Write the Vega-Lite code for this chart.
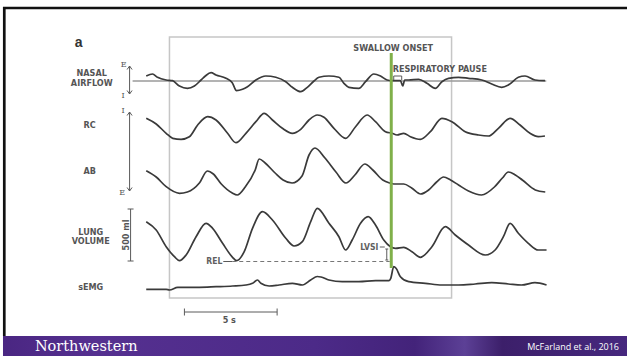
{
  "$schema": "https://vega.github.io/schema/vega-lite/v6.json",
  "width": 629,
  "height": 356,
  "autosize": {"type": "fit", "contains": "padding"},
  "padding": 0,
  "background": "white",
  "config": {"view": {"stroke": null}},
  "datasets": {
    "band": [{"x": 3, "xe": 629, "y": 336, "ye": 356}],
    "box": [{"x": 170, "xe": 453, "y": 37, "ye": 298}],
    "frame": [
      {"x": 3, "y": 8, "xe": 629, "ye": 8, "part": "top"},
      {"x": 4.3, "y": 7, "xe": 4.3, "ye": 336, "part": "left"}
    ],
    "baseline": [{"x": 133, "y": 81, "xe": 548, "ye": 81}],
    "swallow": [{"x": 392.5, "y": 53, "xe": 392.5, "ye": 268}],
    "rel": [{"x": 233, "y": 261.5, "xe": 391, "ye": 261.5}],
    "segs": [
      {"x": 130, "y": 66, "xe": 130, "ye": 94},
      {"x": 127.5, "y": 69.5, "xe": 130, "ye": 66},
      {"x": 130, "y": 66, "xe": 132.5, "ye": 69.5},
      {"x": 127.5, "y": 90.5, "xe": 130, "ye": 94},
      {"x": 130, "y": 94, "xe": 132.5, "ye": 90.5},
      {"x": 130, "y": 112, "xe": 130, "ye": 191},
      {"x": 127.5, "y": 115.5, "xe": 130, "ye": 112},
      {"x": 130, "y": 112, "xe": 132.5, "ye": 115.5},
      {"x": 127.5, "y": 187.5, "xe": 130, "ye": 191},
      {"x": 130, "y": 191, "xe": 132.5, "ye": 187.5},
      {"x": 131, "y": 209, "xe": 131, "ye": 261},
      {"x": 128, "y": 209, "xe": 134, "ye": 209},
      {"x": 128, "y": 261, "xe": 134, "ye": 261},
      {"x": 185, "y": 312, "xe": 278, "ye": 312},
      {"x": 185, "y": 308.5, "xe": 185, "ye": 315.5},
      {"x": 278, "y": 308.5, "xe": 278, "ye": 315.5},
      {"x": 395, "y": 80, "xe": 395, "ye": 76},
      {"x": 395, "y": 76, "xe": 403, "ye": 76},
      {"x": 403, "y": 76, "xe": 403, "ye": 80},
      {"x": 381, "y": 247, "xe": 386, "ye": 247},
      {"x": 388, "y": 249, "xe": 388, "ye": 260},
      {"x": 386.5, "y": 249, "xe": 389.5, "ye": 249},
      {"x": 386.5, "y": 260, "xe": 389.5, "ye": 260},
      {"x": 224, "y": 261.5, "xe": 233, "ye": 261.5}
    ],
    "traces": [
      {"ch": "nasal", "x": 146.7, "y": 76}, {"ch": "nasal", "x": 153, "y": 74}, {"ch": "nasal", "x": 158, "y": 77.3}, {"ch": "nasal", "x": 166.7, "y": 80}, {"ch": "nasal", "x": 173, "y": 80.7}, {"ch": "nasal", "x": 180, "y": 86}, {"ch": "nasal", "x": 188, "y": 88.3}, {"ch": "nasal", "x": 195, "y": 86}, {"ch": "nasal", "x": 201.7, "y": 80}, {"ch": "nasal", "x": 206, "y": 76}, {"ch": "nasal", "x": 211.7, "y": 72.7}, {"ch": "nasal", "x": 216.7, "y": 75}, {"ch": "nasal", "x": 226.7, "y": 78.3}, {"ch": "nasal", "x": 233, "y": 82.7}, {"ch": "nasal", "x": 237.3, "y": 90.7}, {"ch": "nasal", "x": 243.3, "y": 89.3}, {"ch": "nasal", "x": 248.3, "y": 86.7}, {"ch": "nasal", "x": 256.7, "y": 80}, {"ch": "nasal", "x": 266.7, "y": 76}, {"ch": "nasal", "x": 276.7, "y": 77.3}, {"ch": "nasal", "x": 286.7, "y": 81.7}, {"ch": "nasal", "x": 293.3, "y": 87.3}, {"ch": "nasal", "x": 301.7, "y": 91.7}, {"ch": "nasal", "x": 308.3, "y": 87.3}, {"ch": "nasal", "x": 315, "y": 81}, {"ch": "nasal", "x": 320, "y": 77.3}, {"ch": "nasal", "x": 330, "y": 76}, {"ch": "nasal", "x": 340, "y": 77.3}, {"ch": "nasal", "x": 345, "y": 83.3}, {"ch": "nasal", "x": 350, "y": 87.3}, {"ch": "nasal", "x": 360, "y": 88.3}, {"ch": "nasal", "x": 366.7, "y": 81.7}, {"ch": "nasal", "x": 375, "y": 74}, {"ch": "nasal", "x": 381.7, "y": 76}, {"ch": "nasal", "x": 388.3, "y": 80}, {"ch": "nasal", "x": 393.3, "y": 80.7}, {"ch": "nasal", "x": 401.7, "y": 80.7}, {"ch": "nasal", "x": 404, "y": 86}, {"ch": "nasal", "x": 406, "y": 80}, {"ch": "nasal", "x": 410, "y": 80}, {"ch": "nasal", "x": 420, "y": 79.3}, {"ch": "nasal", "x": 428.3, "y": 83.3}, {"ch": "nasal", "x": 436.7, "y": 88.3}, {"ch": "nasal", "x": 443.3, "y": 81.7}, {"ch": "nasal", "x": 450, "y": 78.3}, {"ch": "nasal", "x": 460, "y": 77.3}, {"ch": "nasal", "x": 470, "y": 78.3}, {"ch": "nasal", "x": 483.3, "y": 80}, {"ch": "nasal", "x": 493.3, "y": 84}, {"ch": "nasal", "x": 503.3, "y": 87.3}, {"ch": "nasal", "x": 510, "y": 85}, {"ch": "nasal", "x": 520, "y": 77.3}, {"ch": "nasal", "x": 526.7, "y": 76}, {"ch": "nasal", "x": 536.7, "y": 80}, {"ch": "nasal", "x": 546.7, "y": 80.7},
      {"ch": "rc", "x": 146.7, "y": 118.3}, {"ch": "rc", "x": 156.7, "y": 124}, {"ch": "rc", "x": 166.7, "y": 133.3}, {"ch": "rc", "x": 173.3, "y": 138.3}, {"ch": "rc", "x": 181.7, "y": 139.3}, {"ch": "rc", "x": 190, "y": 136.7}, {"ch": "rc", "x": 198.3, "y": 125}, {"ch": "rc", "x": 208.3, "y": 116.7}, {"ch": "rc", "x": 216.7, "y": 120}, {"ch": "rc", "x": 228.3, "y": 133.3}, {"ch": "rc", "x": 236.7, "y": 142.7}, {"ch": "rc", "x": 246.7, "y": 133.3}, {"ch": "rc", "x": 256.7, "y": 121.7}, {"ch": "rc", "x": 265, "y": 113.3}, {"ch": "rc", "x": 273.3, "y": 120}, {"ch": "rc", "x": 283.3, "y": 128.3}, {"ch": "rc", "x": 293.3, "y": 133.3}, {"ch": "rc", "x": 301.7, "y": 129.3}, {"ch": "rc", "x": 310, "y": 120}, {"ch": "rc", "x": 318.3, "y": 115}, {"ch": "rc", "x": 325, "y": 117.3}, {"ch": "rc", "x": 335, "y": 128.3}, {"ch": "rc", "x": 346.7, "y": 138.3}, {"ch": "rc", "x": 356.7, "y": 126.7}, {"ch": "rc", "x": 368.3, "y": 115}, {"ch": "rc", "x": 376.7, "y": 121.7}, {"ch": "rc", "x": 386.7, "y": 131.7}, {"ch": "rc", "x": 393.3, "y": 133.3}, {"ch": "rc", "x": 398.3, "y": 135}, {"ch": "rc", "x": 405, "y": 133.3}, {"ch": "rc", "x": 411.7, "y": 136.7}, {"ch": "rc", "x": 421.7, "y": 139.3}, {"ch": "rc", "x": 431.7, "y": 131.7}, {"ch": "rc", "x": 443.3, "y": 118.3}, {"ch": "rc", "x": 453.3, "y": 121.7}, {"ch": "rc", "x": 466.7, "y": 131.7}, {"ch": "rc", "x": 480, "y": 135}, {"ch": "rc", "x": 490, "y": 136}, {"ch": "rc", "x": 500, "y": 128.3}, {"ch": "rc", "x": 511.7, "y": 118.3}, {"ch": "rc", "x": 521.7, "y": 125}, {"ch": "rc", "x": 531.7, "y": 133.3}, {"ch": "rc", "x": 540, "y": 136.7}, {"ch": "rc", "x": 546.7, "y": 136},
      {"ch": "ab", "x": 146.7, "y": 170.7}, {"ch": "ab", "x": 156.7, "y": 177}, {"ch": "ab", "x": 166.7, "y": 186.7}, {"ch": "ab", "x": 180, "y": 193.3}, {"ch": "ab", "x": 188, "y": 192}, {"ch": "ab", "x": 200, "y": 183}, {"ch": "ab", "x": 208, "y": 171}, {"ch": "ab", "x": 214, "y": 174}, {"ch": "ab", "x": 222, "y": 184}, {"ch": "ab", "x": 233, "y": 193}, {"ch": "ab", "x": 238, "y": 195}, {"ch": "ab", "x": 246, "y": 187}, {"ch": "ab", "x": 256, "y": 170}, {"ch": "ab", "x": 260, "y": 159}, {"ch": "ab", "x": 266, "y": 163}, {"ch": "ab", "x": 276, "y": 173}, {"ch": "ab", "x": 284, "y": 180}, {"ch": "ab", "x": 293, "y": 183}, {"ch": "ab", "x": 303, "y": 176}, {"ch": "ab", "x": 310, "y": 155}, {"ch": "ab", "x": 316, "y": 148}, {"ch": "ab", "x": 326, "y": 158}, {"ch": "ab", "x": 337, "y": 172}, {"ch": "ab", "x": 347, "y": 183}, {"ch": "ab", "x": 356, "y": 175}, {"ch": "ab", "x": 366, "y": 164}, {"ch": "ab", "x": 374, "y": 170}, {"ch": "ab", "x": 384, "y": 180}, {"ch": "ab", "x": 391, "y": 183}, {"ch": "ab", "x": 395, "y": 184}, {"ch": "ab", "x": 405, "y": 184}, {"ch": "ab", "x": 413, "y": 188}, {"ch": "ab", "x": 422, "y": 194}, {"ch": "ab", "x": 430, "y": 190}, {"ch": "ab", "x": 438, "y": 182}, {"ch": "ab", "x": 445, "y": 177}, {"ch": "ab", "x": 452, "y": 180}, {"ch": "ab", "x": 460, "y": 185}, {"ch": "ab", "x": 470, "y": 191}, {"ch": "ab", "x": 483, "y": 195}, {"ch": "ab", "x": 496, "y": 187}, {"ch": "ab", "x": 504, "y": 178}, {"ch": "ab", "x": 510, "y": 172}, {"ch": "ab", "x": 517, "y": 175}, {"ch": "ab", "x": 524, "y": 180}, {"ch": "ab", "x": 537, "y": 190}, {"ch": "ab", "x": 547, "y": 192},
      {"ch": "lung", "x": 146.7, "y": 221.7}, {"ch": "lung", "x": 156.7, "y": 230}, {"ch": "lung", "x": 166.7, "y": 246.7}, {"ch": "lung", "x": 175, "y": 256.7}, {"ch": "lung", "x": 180, "y": 260.7}, {"ch": "lung", "x": 186.7, "y": 255}, {"ch": "lung", "x": 196.7, "y": 236.7}, {"ch": "lung", "x": 206.7, "y": 223.3}, {"ch": "lung", "x": 213.3, "y": 228.3}, {"ch": "lung", "x": 223.3, "y": 243.3}, {"ch": "lung", "x": 233.3, "y": 257.3}, {"ch": "lung", "x": 237.3, "y": 260.7}, {"ch": "lung", "x": 245, "y": 251.7}, {"ch": "lung", "x": 253.3, "y": 228.3}, {"ch": "lung", "x": 263.3, "y": 211.7}, {"ch": "lung", "x": 273.3, "y": 220}, {"ch": "lung", "x": 286.7, "y": 238.3}, {"ch": "lung", "x": 295, "y": 246}, {"ch": "lung", "x": 303.3, "y": 241.7}, {"ch": "lung", "x": 311.7, "y": 221.7}, {"ch": "lung", "x": 318.3, "y": 208.3}, {"ch": "lung", "x": 330, "y": 223.3}, {"ch": "lung", "x": 340, "y": 236.7}, {"ch": "lung", "x": 346.7, "y": 250}, {"ch": "lung", "x": 353.3, "y": 240}, {"ch": "lung", "x": 361.7, "y": 223.3}, {"ch": "lung", "x": 369.3, "y": 216.7}, {"ch": "lung", "x": 376.7, "y": 225}, {"ch": "lung", "x": 385, "y": 240}, {"ch": "lung", "x": 391.7, "y": 246.7}, {"ch": "lung", "x": 396.7, "y": 248.3}, {"ch": "lung", "x": 405, "y": 247.3}, {"ch": "lung", "x": 413.3, "y": 251.7}, {"ch": "lung", "x": 421.7, "y": 257.3}, {"ch": "lung", "x": 433.3, "y": 246.7}, {"ch": "lung", "x": 446.7, "y": 226.7}, {"ch": "lung", "x": 456.7, "y": 235}, {"ch": "lung", "x": 470, "y": 245}, {"ch": "lung", "x": 486.7, "y": 255}, {"ch": "lung", "x": 496.7, "y": 250}, {"ch": "lung", "x": 505, "y": 236.7}, {"ch": "lung", "x": 511.7, "y": 223.3}, {"ch": "lung", "x": 520, "y": 233.3}, {"ch": "lung", "x": 530, "y": 243.3}, {"ch": "lung", "x": 540, "y": 250}, {"ch": "lung", "x": 548.3, "y": 250},
      {"ch": "semg", "x": 146.7, "y": 289.3}, {"ch": "semg", "x": 166.7, "y": 289.3}, {"ch": "semg", "x": 170, "y": 290}, {"ch": "semg", "x": 178.3, "y": 287.3}, {"ch": "semg", "x": 200, "y": 287.3}, {"ch": "semg", "x": 216.7, "y": 286.7}, {"ch": "semg", "x": 233.3, "y": 286}, {"ch": "semg", "x": 246.7, "y": 285}, {"ch": "semg", "x": 253.3, "y": 283.3}, {"ch": "semg", "x": 258.3, "y": 280}, {"ch": "semg", "x": 261.7, "y": 283.3}, {"ch": "semg", "x": 270, "y": 286}, {"ch": "semg", "x": 280, "y": 285}, {"ch": "semg", "x": 293.3, "y": 283.3}, {"ch": "semg", "x": 303.3, "y": 285}, {"ch": "semg", "x": 311.7, "y": 280}, {"ch": "semg", "x": 318.3, "y": 276.5}, {"ch": "semg", "x": 322, "y": 277}, {"ch": "semg", "x": 330, "y": 280}, {"ch": "semg", "x": 343.3, "y": 281.7}, {"ch": "semg", "x": 360, "y": 281.7}, {"ch": "semg", "x": 376.7, "y": 280.7}, {"ch": "semg", "x": 390, "y": 280.7}, {"ch": "semg", "x": 392, "y": 278.3}, {"ch": "semg", "x": 395, "y": 266.7}, {"ch": "semg", "x": 397.3, "y": 268.3}, {"ch": "semg", "x": 401.7, "y": 276.7}, {"ch": "semg", "x": 410, "y": 281.7}, {"ch": "semg", "x": 426.7, "y": 283.3}, {"ch": "semg", "x": 443.3, "y": 285}, {"ch": "semg", "x": 460, "y": 285}, {"ch": "semg", "x": 476.7, "y": 284}, {"ch": "semg", "x": 493.3, "y": 282.7}, {"ch": "semg", "x": 510, "y": 284}, {"ch": "semg", "x": 523.3, "y": 285}, {"ch": "semg", "x": 536.7, "y": 282.7}, {"ch": "semg", "x": 548.3, "y": 285}
    ],
    "labels": [
      {"t": "NASAL", "x": 92, "y": 73}, {"t": "AIRFLOW", "x": 92, "y": 83},
      {"t": "RC", "x": 90, "y": 125}, {"t": "AB", "x": 90, "y": 171},
      {"t": "LUNG", "x": 91, "y": 232}, {"t": "VOLUME", "x": 91, "y": 241},
      {"t": "sEMG", "x": 91, "y": 287}, {"t": "5 s", "x": 230, "y": 319.5},
      {"t": "SWALLOW ONSET", "x": 394.5, "y": 47.5}
    ],
    "leftlabels": [{"t": "RESPIRATORY PAUSE", "x": 394, "y": 69.3}],
    "rightlabels": [{"t": "LVSI", "x": 379.5, "y": 247}, {"t": "REL", "x": 223, "y": 261}],
    "ei": [
      {"t": "E", "x": 124, "y": 65}, {"t": "I", "x": 123.5, "y": 95.5},
      {"t": "I", "x": 123.5, "y": 111}, {"t": "E", "x": 122.5, "y": 192.5}
    ],
    "vol": [{"t": "500 ml", "x": 126, "y": 235}],
    "panel": [{"t": "a", "x": 79, "y": 43}],
    "brand": [{"t": "Northwestern", "x": 35, "y": 346.5}],
    "cite": [{"t": "McFarland et al., 2016", "x": 621, "y": 347}]
  },
  "layer": [
    {
      "data": {"name": "band"},
      "mark": {"type": "rect", "fill": {"gradient": "linear", "x1": 0, "x2": 1, "y1": 0, "y2": 0, "stops": [
        {"offset": 0, "color": "#4a2682"},
        {"offset": 0.15, "color": "#553090"},
        {"offset": 0.5, "color": "#4c2a88"},
        {"offset": 0.66, "color": "#43237a"},
        {"offset": 0.74, "color": "#5c4096"},
        {"offset": 0.8, "color": "#3c1f6a"},
        {"offset": 1, "color": "#46287e"}
      ]}},
      "encoding": {
        "x": {"field": "x", "type": "quantitative", "scale": {"domain": [0, 629], "nice": false, "zero": false}, "axis": null},
        "x2": {"field": "xe"},
        "y": {"field": "y", "type": "quantitative", "scale": {"domain": [0, 356], "nice": false, "zero": false, "reverse": true}, "axis": null},
        "y2": {"field": "ye"}
      }
    },
    {
      "data": {"name": "frame"},
      "mark": {"type": "rule", "color": "#111111", "strokeWidth": 2.7},
      "encoding": {
        "x": {"field": "x", "type": "quantitative"}, "x2": {"field": "xe"},
        "y": {"field": "y", "type": "quantitative"}, "y2": {"field": "ye"}
      }
    },
    {
      "data": {"name": "box"},
      "mark": {"type": "rect", "fill": null, "fillOpacity": 0, "stroke": "#c6c6c6", "strokeWidth": 1.5},
      "encoding": {
        "x": {"field": "x", "type": "quantitative"}, "x2": {"field": "xe"},
        "y": {"field": "y", "type": "quantitative"}, "y2": {"field": "ye"}
      }
    },
    {
      "data": {"name": "baseline"},
      "mark": {"type": "rule", "color": "#9a9a9a", "strokeWidth": 1.3},
      "encoding": {
        "x": {"field": "x", "type": "quantitative"}, "x2": {"field": "xe"},
        "y": {"field": "y", "type": "quantitative"}, "y2": {"field": "ye"}
      }
    },
    {
      "data": {"name": "traces"},
      "mark": {"type": "line", "color": "#3a3a3a", "strokeWidth": 1.7, "interpolate": "monotone"},
      "encoding": {
        "x": {"field": "x", "type": "quantitative"},
        "y": {"field": "y", "type": "quantitative"},
        "detail": {"field": "ch", "type": "nominal"}
      }
    },
    {
      "data": {"name": "rel"},
      "mark": {"type": "rule", "color": "#777777", "strokeWidth": 1, "strokeDash": [4, 3]},
      "encoding": {
        "x": {"field": "x", "type": "quantitative"}, "x2": {"field": "xe"},
        "y": {"field": "y", "type": "quantitative"}, "y2": {"field": "ye"}
      }
    },
    {
      "data": {"name": "segs"},
      "mark": {"type": "rule", "color": "#5a5a5a", "strokeWidth": 1},
      "encoding": {
        "x": {"field": "x", "type": "quantitative"}, "x2": {"field": "xe"},
        "y": {"field": "y", "type": "quantitative"}, "y2": {"field": "ye"}
      }
    },
    {
      "data": {"name": "swallow"},
      "mark": {"type": "rule", "color": "#80b04a", "strokeWidth": 3},
      "encoding": {
        "x": {"field": "x", "type": "quantitative"}, "x2": {"field": "xe"},
        "y": {"field": "y", "type": "quantitative"}, "y2": {"field": "ye"}
      }
    },
    {
      "data": {"name": "labels"},
      "mark": {"type": "text", "font": "Liberation Sans Narrow, DejaVu Sans Condensed, Liberation Sans", "fontSize": 9, "fontWeight": "bold", "color": "#555555", "align": "center", "baseline": "middle"},
      "encoding": {
        "x": {"field": "x", "type": "quantitative"}, "y": {"field": "y", "type": "quantitative"},
        "text": {"field": "t"}
      }
    },
    {
      "data": {"name": "leftlabels"},
      "mark": {"type": "text", "font": "Liberation Sans Narrow, DejaVu Sans Condensed, Liberation Sans", "fontSize": 9, "fontWeight": "bold", "color": "#555555", "align": "left", "baseline": "middle"},
      "encoding": {
        "x": {"field": "x", "type": "quantitative"}, "y": {"field": "y", "type": "quantitative"},
        "text": {"field": "t"}
      }
    },
    {
      "data": {"name": "rightlabels"},
      "mark": {"type": "text", "font": "Liberation Sans Narrow, DejaVu Sans Condensed, Liberation Sans", "fontSize": 8.5, "fontWeight": "bold", "color": "#606060", "align": "right", "baseline": "middle"},
      "encoding": {
        "x": {"field": "x", "type": "quantitative"}, "y": {"field": "y", "type": "quantitative"},
        "text": {"field": "t"}
      }
    },
    {
      "data": {"name": "ei"},
      "mark": {"type": "text", "font": "DejaVu Serif", "fontSize": 8, "color": "#555555", "align": "center", "baseline": "middle"},
      "encoding": {
        "x": {"field": "x", "type": "quantitative"}, "y": {"field": "y", "type": "quantitative"},
        "text": {"field": "t"}
      }
    },
    {
      "data": {"name": "vol"},
      "mark": {"type": "text", "font": "Liberation Sans Narrow, DejaVu Sans Condensed, Liberation Sans", "fontSize": 9, "fontWeight": "bold", "color": "#555555", "align": "center", "baseline": "middle", "angle": 270},
      "encoding": {
        "x": {"field": "x", "type": "quantitative"}, "y": {"field": "y", "type": "quantitative"},
        "text": {"field": "t"}
      }
    },
    {
      "data": {"name": "panel"},
      "mark": {"type": "text", "font": "Liberation Sans", "fontSize": 14, "fontWeight": "bold", "color": "#333333", "align": "center", "baseline": "middle"},
      "encoding": {
        "x": {"field": "x", "type": "quantitative"}, "y": {"field": "y", "type": "quantitative"},
        "text": {"field": "t"}
      }
    },
    {
      "data": {"name": "brand"},
      "mark": {"type": "text", "font": "DejaVu Serif", "fontSize": 14.5, "color": "#ffffff", "align": "left", "baseline": "middle"},
      "encoding": {
        "x": {"field": "x", "type": "quantitative"}, "y": {"field": "y", "type": "quantitative"},
        "text": {"field": "t"}
      }
    },
    {
      "data": {"name": "cite"},
      "mark": {"type": "text", "font": "Open Sans", "fontSize": 9, "color": "#ffffff", "align": "right", "baseline": "middle"},
      "encoding": {
        "x": {"field": "x", "type": "quantitative"}, "y": {"field": "y", "type": "quantitative"},
        "text": {"field": "t"}
      }
    }
  ]
}
